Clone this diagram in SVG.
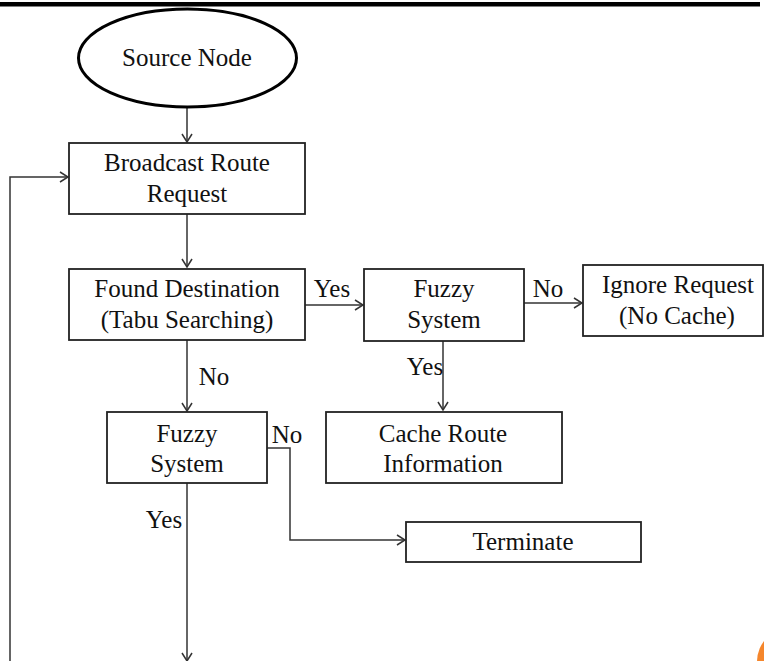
<svg xmlns="http://www.w3.org/2000/svg" width="764" height="661" viewBox="0 0 764 661">
<defs>
<marker id="arr" markerWidth="10" markerHeight="12" refX="9" refY="6" orient="auto" markerUnits="userSpaceOnUse">
<path d="M1,1 L9,6 L1,11" fill="none" stroke="#333" stroke-width="1.5"/>
</marker>
<style>
.box{fill:#fff;stroke:#222;stroke-width:1.8}
.t{font-family:"Liberation Serif","Times New Roman",serif;font-size:25px;fill:#111;text-anchor:middle}
.c{fill:none;stroke:#333;stroke-width:1.5}
</style>
</defs>
<rect x="0" y="0" width="764" height="661" fill="#fff"/>
<rect x="0" y="2" width="760" height="4.5" fill="#000"/>
<circle cx="792" cy="662" r="35" fill="#F5862C"/>

<g id="connectors">
<line class="c" x1="187" y1="108" x2="187" y2="142" marker-end="url(#arr)"/>
<line class="c" x1="187" y1="214" x2="187" y2="267" marker-end="url(#arr)"/>
<line class="c" x1="305" y1="305" x2="363" y2="305" marker-end="url(#arr)"/>
<line class="c" x1="524" y1="303" x2="582" y2="303" marker-end="url(#arr)"/>
<line class="c" x1="443" y1="341" x2="443" y2="410" marker-end="url(#arr)"/>
<line class="c" x1="187" y1="340" x2="187" y2="411" marker-end="url(#arr)"/>
<polyline class="c" points="267,448 290,448 290,540 405,540" marker-end="url(#arr)"/>
<line class="c" x1="187" y1="483" x2="187" y2="661" marker-end="url(#arr)"/>
<polyline class="c" points="10,661 10,177 68,177" marker-end="url(#arr)"/>
<text class="t" x="332" y="297">Yes</text>
<text class="t" x="548" y="297">No</text>
<text class="t" x="425" y="375">Yes</text>
<text class="t" x="214" y="385">No</text>
<text class="t" x="287" y="443">No</text>
<text class="t" x="164" y="528">Yes</text>
</g>

<g id="source">
<ellipse cx="187.5" cy="58" rx="109" ry="49" fill="#fff" stroke="#000" stroke-width="3"/>
<text class="t" x="187" y="66">Source Node</text>
</g>
<g id="broadcast">
<rect class="box" x="69" y="143" width="236" height="71"/>
<text class="t" x="187" y="171">Broadcast Route</text>
<text class="t" x="187" y="202">Request</text>
</g>
<g id="found">
<rect class="box" x="69" y="269" width="236" height="71"/>
<text class="t" x="187" y="297">Found Destination</text>
<text class="t" x="187" y="328">(Tabu Searching)</text>
</g>
<g id="fuzzy1">
<rect class="box" x="364" y="269" width="160" height="72"/>
<text class="t" x="444" y="297">Fuzzy</text>
<text class="t" x="444" y="328">System</text>
</g>
<g id="ignore">
<rect class="box" x="583" y="265" width="180" height="71"/>
<text class="t" x="678" y="293">Ignore Request</text>
<text class="t" x="677" y="324">(No Cache)</text>
</g>
<g id="cache">
<rect class="box" x="326" y="412" width="236" height="71"/>
<text class="t" x="443" y="442">Cache Route</text>
<text class="t" x="443" y="472">Information</text>
</g>
<g id="fuzzy2">
<rect class="box" x="107" y="412" width="160" height="71"/>
<text class="t" x="187" y="442">Fuzzy</text>
<text class="t" x="187" y="472">System</text>
</g>
<g id="terminate">
<rect class="box" x="406" y="522" width="235" height="40"/>
<text class="t" x="523" y="550">Terminate</text>
</g>
</svg>
